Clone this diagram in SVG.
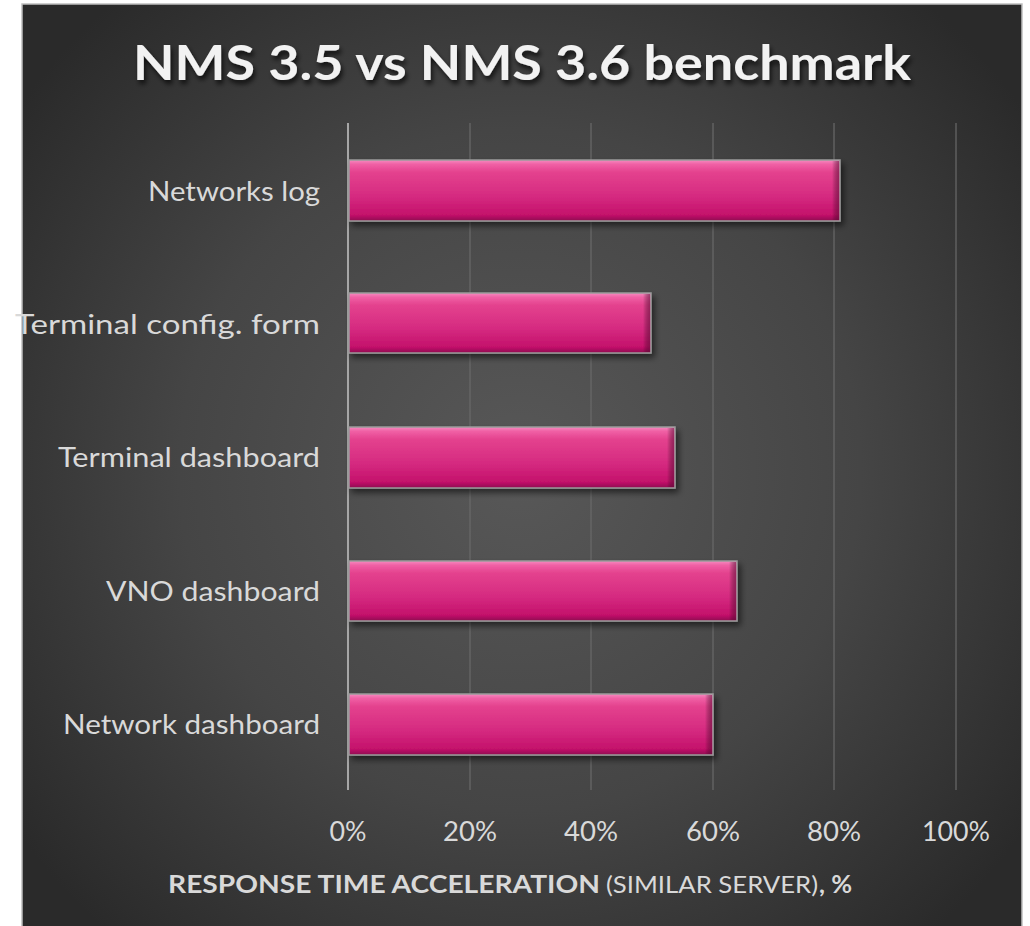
<svg xmlns="http://www.w3.org/2000/svg" width="1030" height="926" viewBox="0 0 1030 926">
  <defs>
    <radialGradient id="bg" cx="520" cy="470" r="620" gradientUnits="userSpaceOnUse">
      <stop offset="0" stop-color="#585858"/>
      <stop offset="0.55" stop-color="#454545"/>
      <stop offset="1" stop-color="#2a2a2a"/>
    </radialGradient>
    <linearGradient id="barFill" x1="0" y1="0" x2="0" y2="1">
      <stop offset="0" stop-color="#f58cc0"/>
      <stop offset="0.07" stop-color="#f060a5"/>
      <stop offset="0.2" stop-color="#e4428e"/>
      <stop offset="0.6" stop-color="#d52a80"/>
      <stop offset="0.9" stop-color="#c4116b"/>
      <stop offset="1" stop-color="#8e1050"/>
    </linearGradient>
    <linearGradient id="barEnd" x1="0" y1="0" x2="1" y2="0">
      <stop offset="0" stop-color="#000" stop-opacity="0"/>
      <stop offset="1" stop-color="#5a0a33" stop-opacity="0.55"/>
    </linearGradient>
    <filter id="barShadow" x="-5%" y="-20%" width="115%" height="160%">
      <feGaussianBlur in="SourceAlpha" stdDeviation="3"/>
      <feOffset dx="3" dy="4" result="b"/>
      <feComponentTransfer><feFuncA type="linear" slope="0.55"/></feComponentTransfer>
      <feMerge><feMergeNode/><feMergeNode in="SourceGraphic"/></feMerge>
    </filter>
    <filter id="titleShadow" x="-5%" y="-30%" width="110%" height="170%">
      <feGaussianBlur in="SourceAlpha" stdDeviation="2.5"/>
      <feOffset dx="2" dy="4" result="b"/>
      <feComponentTransfer><feFuncA type="linear" slope="0.7"/></feComponentTransfer>
      <feMerge><feMergeNode/><feMergeNode in="SourceGraphic"/></feMerge>
    </filter>
  </defs>
  <style>
    .cat { font-family: Lato, "Open Sans", sans-serif; font-size: 27px; fill: #d9d9d9; text-anchor: end; }
    .tick { font-family: Lato, "Open Sans", sans-serif; font-size: 26px; fill: #d9d9d9; text-anchor: middle; }
    .axt { font-family: Lato, "Open Sans", sans-serif; font-size: 24px; fill: #d9d9d9; }
    .grid { stroke: #6a6a6a; stroke-width: 1.2; }
    .axis { stroke: #a6a6a6; stroke-width: 2; }
    .bar { fill: url(#barFill); stroke: #9a9a9a; stroke-width: 1.5; filter: url(#barShadow); }
    .shade { fill: url(#barEnd); }
  </style>

  <!-- panel background -->
  <rect x="22" y="4" width="1000" height="930" fill="url(#bg)" stroke="#bfbfbf" stroke-width="1.5"/>

  <!-- title -->
  <text id="title" x="522" y="80" text-anchor="middle" font-family="Lato, 'Open Sans', sans-serif" font-weight="bold" font-size="47" fill="#f2f2f2" textLength="778" lengthAdjust="spacingAndGlyphs" filter="url(#titleShadow)">NMS 3.5 vs NMS 3.6 benchmark</text>

  <!-- gridlines and value axis -->
  <g id="connectors">
    <line class="grid" x1="470" y1="123" x2="470" y2="790"/>
    <line class="grid" x1="591" y1="123" x2="591" y2="790"/>
    <line class="grid" x1="713" y1="123" x2="713" y2="790"/>
    <line class="grid" x1="834" y1="123" x2="834" y2="790"/>
    <line class="grid" x1="956" y1="123" x2="956" y2="790"/>
    <line class="axis" x1="348" y1="123" x2="348" y2="790"/>
  </g>

  <!-- bars -->
  <g id="bar-networks-log">
    <rect class="bar" x="349" y="160" width="491" height="61"/>
    <rect class="shade" x="832" y="161" width="7" height="59"/>
    <text class="cat" x="320" y="201" textLength="172" lengthAdjust="spacingAndGlyphs">Networks log</text>
  </g>
  <g id="bar-terminal-config">
    <rect class="bar" x="349" y="293" width="302" height="60"/>
    <rect class="shade" x="643" y="294" width="7" height="58"/>
    <text class="cat" x="320" y="334" textLength="305" lengthAdjust="spacingAndGlyphs">Terminal config. form</text>
  </g>
  <g id="bar-terminal-dashboard">
    <rect class="bar" x="349" y="427" width="326" height="61"/>
    <rect class="shade" x="667" y="428" width="7" height="59"/>
    <text class="cat" x="320" y="467" textLength="262" lengthAdjust="spacingAndGlyphs">Terminal dashboard</text>
  </g>
  <g id="bar-vno-dashboard">
    <rect class="bar" x="349" y="561" width="388" height="60"/>
    <rect class="shade" x="729" y="562" width="7" height="58"/>
    <text class="cat" x="320" y="601" textLength="214" lengthAdjust="spacingAndGlyphs">VNO dashboard</text>
  </g>
  <g id="bar-network-dashboard">
    <rect class="bar" x="349" y="694" width="364" height="61"/>
    <rect class="shade" x="705" y="695" width="7" height="59"/>
    <text class="cat" x="320" y="734" textLength="257" lengthAdjust="spacingAndGlyphs">Network dashboard</text>
  </g>

  <!-- tick labels -->
  <g id="ticks">
    <text class="tick" x="348" y="841" textLength="37" lengthAdjust="spacingAndGlyphs">0%</text>
    <text class="tick" x="470" y="841" textLength="54" lengthAdjust="spacingAndGlyphs">20%</text>
    <text class="tick" x="591" y="841" textLength="54" lengthAdjust="spacingAndGlyphs">40%</text>
    <text class="tick" x="713" y="841" textLength="54" lengthAdjust="spacingAndGlyphs">60%</text>
    <text class="tick" x="834" y="841" textLength="54" lengthAdjust="spacingAndGlyphs">80%</text>
    <text class="tick" x="956" y="841" textLength="68" lengthAdjust="spacingAndGlyphs">100%</text>
  </g>

  <!-- axis title -->
  <g id="axis-title">
    <text class="axt" x="168" y="893" font-weight="bold" textLength="432" lengthAdjust="spacingAndGlyphs">RESPONSE TIME ACCELERATION</text>
    <text class="axt" x="606" y="893" textLength="212" lengthAdjust="spacingAndGlyphs">(SIMILAR SERVER)</text>
    <text class="axt" x="819" y="893" font-weight="bold" textLength="33" lengthAdjust="spacingAndGlyphs">, %</text>
  </g>
</svg>
